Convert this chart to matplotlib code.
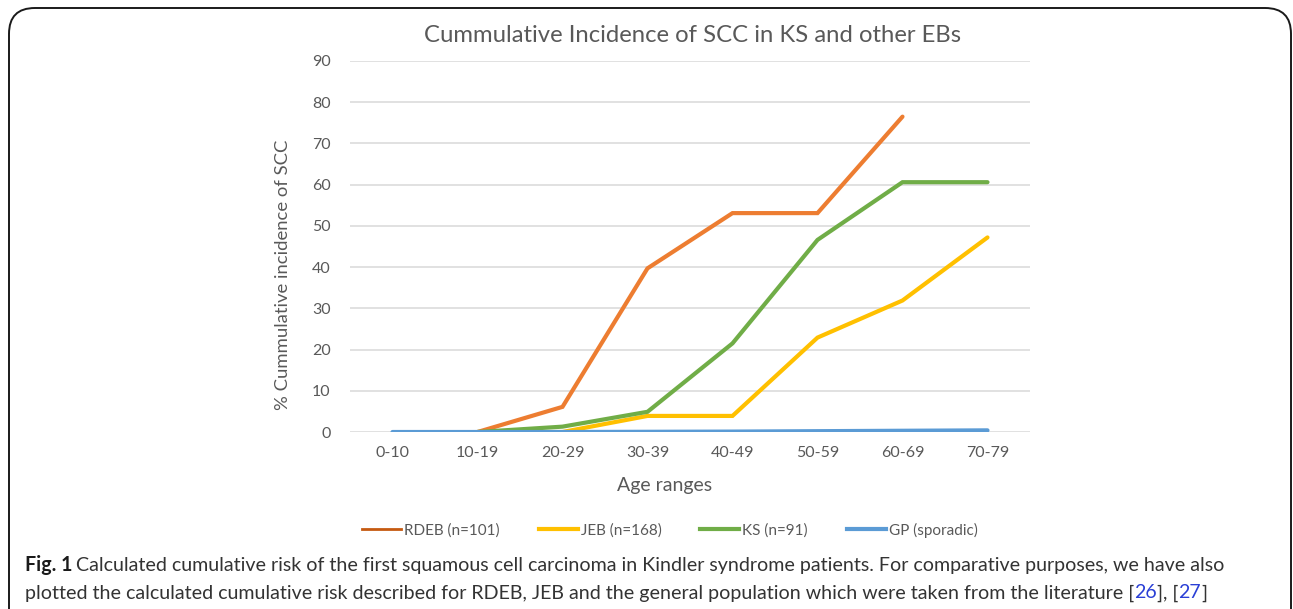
import matplotlib
matplotlib.use("Agg")
import matplotlib.pyplot as plt
from matplotlib.lines import Line2D
from matplotlib.patches import FancyBboxPatch

categories = ["0-10", "10-19", "20-29", "30-39", "40-49", "50-59", "60-69", "70-79"]
rdeb = [None, 0, 6.1, 39.7, 53.1, 53.1, 76.5, None]
jeb = [None, 0, 0, 3.9, 3.9, 22.9, 31.9, 47.2]
ks = [None, 0, 1.3, 4.9, 21.5, 46.6, 60.6, 60.6]
gp = [0, 0, 0, 0.05, 0.1, 0.2, 0.3, 0.4]
yticks = [0, 10, 20, 30, 40, 50, 60, 70, 80, 90]

series = [
    ("RDEB (n=101)", rdeb, "#ED7D31"),
    ("JEB (n=168)", jeb, "#FFC000"),
    ("KS (n=91)", ks, "#70AD47"),
    ("GP (sporadic)", gp, "#5B9BD5"),
]

W, H = 1293, 609
fig = plt.figure(figsize=(W / 100, H / 100), dpi=100)
fig.patch.set_facecolor("white")

chart_font = ["Lato", "DejaVu Sans"]
grey = "#595959"

ax = fig.add_axes([350 / W, 1 - 432 / H, (1030 - 350) / W, (432 - 61) / H])
x = list(range(len(categories)))
for name, vals, col in series:
    xs = [i for i, v in zip(x, vals) if v is not None]
    ys = [v for v in vals if v is not None]
    ax.plot(xs, ys, color=col, lw=3.0, solid_capstyle="round", solid_joinstyle="miter", zorder=3)

ax.set_xlim(-0.5, len(categories) - 0.5)
ax.set_ylim(0, 90)
ax.set_yticks(yticks)
ax.set_xticks(x)
ax.set_xticklabels(categories, family=chart_font, fontsize=11.5, color=grey)
ax.set_yticklabels([str(t) for t in yticks], family=chart_font, fontsize=11.5, color=grey)
ax.tick_params(length=0, pad=14)
ax.tick_params(axis="x", pad=10)
ax.grid(axis="y", color="#D9D9D9", lw=1.1, zorder=0)
for s in ax.spines.values():
    s.set_visible(False)
ax.set_axisbelow(True)

fig.text(665 / W, 1 - 485 / H, "Age ranges", family=chart_font, fontsize=14, color=grey,
         ha="center", va="center")
fig.text(283 / W, 1 - 275 / H, "% Cummulative incidence of SCC", family=chart_font, fontsize=13.3,
         color=grey, ha="center", va="center", rotation=90)
fig.text(693 / W, 1 - 36 / H, "Cummulative Incidence of SCC in KS and other EBs",
         family=chart_font, fontsize=17.2, color=grey, ha="center", va="center")

handles = [Line2D([], [], color=c, lw=(2 if i == 0 else 3.0)) for i, (_, _, c) in enumerate(series)]
handles[0].set_color("#C55A11")
leg = fig.legend(handles, [s[0] for s in series], loc="center", bbox_to_anchor=(670 / W, 1 - 530 / H),
                 ncol=4, frameon=False, prop={"family": chart_font, "size": 11},
                 handlelength=2.55, handletextpad=0.2, columnspacing=2.55)
for t in leg.get_texts():
    t.set_color(grey)

# frame
frame = FancyBboxPatch((9 / W, -0.05), (1291 - 9) / W, (1 - 8 / H) + 0.05,
                       boxstyle="round,pad=0,rounding_size=0.02", transform=fig.transFigure,
                       fill=False, ec="#1a1a1a", lw=1.4, mutation_aspect=W / H)
fig.patches.append(frame)

# caption
cap_font = ["Lato", "DejaVu Sans"]
renderer = fig.canvas.get_renderer()
line1_bold = "Fig. 1"
line1_rest = "Calculated cumulative risk of the first squamous cell carcinoma in Kindler syndrome patients. For comparative purposes, we have also"
x0, x_end = 25, 1228

# fit caption size to the reference line width
probe = fig.text(0, 0, line1_bold + " " + line1_rest, fontsize=14, family=cap_font)
wprobe = probe.get_window_extent(renderer=renderer).width
probe.remove()
fs = 14 * (x_end - x0) / wprobe


def put(xpx, ypx, s, **kw):
    t = fig.text(xpx / W, 1 - ypx / H, s, fontsize=fs, va="center", ha="left", family=cap_font, **kw)
    return t.get_window_extent(renderer=renderer).x1


y1, y2 = 565, 593
txt = "#333333"
blue = "#2a3fd6"
xe = put(x0, y1, line1_bold, weight="bold", color="#1a1a1a")
put(xe + 4, y1, line1_rest, color=txt)
xe = put(x0, y2, "plotted the calculated cumulative risk described for RDEB, JEB and the general population which were taken from the literature [",
         color=txt)
xe = put(xe, y2, "26", color=blue)
xe = put(xe, y2, "], [", color=txt)
xe = put(xe, y2, "27", color=blue)
put(xe, y2, "]", color=txt)

fig.savefig("out.png", dpi=100, facecolor="white")
